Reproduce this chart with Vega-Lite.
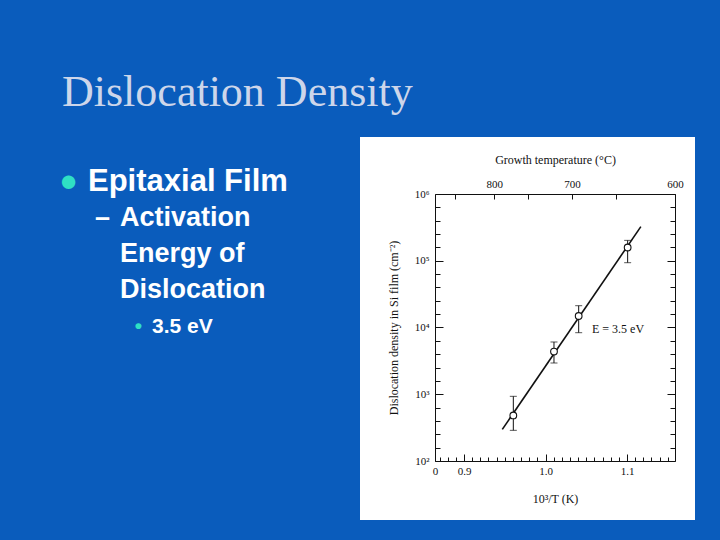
{
  "$schema": "https://vega.github.io/schema/vega-lite/v6.json",
  "width": 335,
  "height": 383,
  "autosize": {"type": "none"},
  "padding": {"left": 360, "top": 137, "right": 25, "bottom": 20},
  "background": "#0a5cbc",
  "title": {
    "text": "Dislocation Density",
    "anchor": "start",
    "frame": "group",
    "font": "Liberation Serif",
    "fontSize": 44,
    "fontWeight": "normal",
    "color": "#cdd6ea",
    "dx": -298,
    "dy": 40,
    "offset": 27,
    "baseline": "alphabetic"
  },
  "datasets": {
    "fit": [{"x": 0.947, "y": 298}, {"x": 1.117, "y": 324000}],
    "pts": [
      {"x": 0.9605, "y": 481, "lo": 288, "hi": 931},
      {"x": 1.0104, "y": 4365, "lo": 2938, "hi": 6067},
      {"x": 1.0407, "y": 14860, "lo": 8360, "hi": 21220},
      {"x": 1.1008, "y": 158000, "lo": 93500, "hi": 202000}
    ],
    "annot": [{"x": 1.057, "y": 9500, "label": "E = 3.5 eV"}],
    "bullets": [
      {"line": 1, "level": 1, "text": "Epitaxial Film", "bullet": "●"},
      {"line": 2, "level": 2, "text": "Activation", "bullet": "–"},
      {"line": 3, "level": 2, "text": "Energy of", "bullet": ""},
      {"line": 4, "level": 2, "text": "Dislocation", "bullet": ""},
      {"line": 5, "level": 3, "text": "3.5 eV", "bullet": "•"}
    ]
  },
  "layer": [
    {
      "data": {"name": "fit"},
      "mark": {"type": "line", "color": "#111111", "strokeWidth": 1.6},
      "encoding": {
        "x": {
          "field": "x", "type": "quantitative",
          "scale": {"type": "linear", "domain": [0.8644, 1.1589], "range": [75, 315], "nice": false, "zero": false},
          "axis": {
            "orient": "bottom", "offset": -59, "title": "10³/T (K)",
            "values": [0.8644, 0.87, 0.88, 0.89, 0.9, 0.91, 0.92, 0.93, 0.94, 0.95, 0.96, 0.97, 0.98, 0.99, 1, 1.01, 1.02, 1.03, 1.04, 1.05, 1.06, 1.07, 1.08, 1.09, 1.1, 1.11, 1.12, 1.13, 1.14, 1.15],
            "labelExpr": "datum.value < 0.865 ? '0' : (abs(datum.value*10 - round(datum.value*10)) < 0.001 ? format(datum.value, '.1f') : '')",
            "tickSize": {"condition": {"test": "datum.value < 0.865 || abs(datum.value*10 - round(datum.value*10)) < 0.001", "value": -7}, "value": -4},
            "labelPadding": 11,
            "titlePadding": 14
          }
        },
        "y": {
          "field": "y", "type": "quantitative",
          "scale": {"type": "log", "domain": [100, 1000000], "range": [324, 57], "nice": false},
          "axis": {
            "orient": "left", "offset": -75, "title": "Dislocation density in Si film (cm⁻²)",
            "values": [100, 158.5, 251.2, 398.1, 631, 1000, 1585, 2512, 3981, 6310, 10000, 15850, 25120, 39810, 63100, 100000, 158500, 251200, 398100, 631000, 1000000],
            "labelExpr": "abs(log(datum.value)/LN10 - round(log(datum.value)/LN10)) < 0.001 ? '10' + ['²','³','⁴','⁵','⁶'][round(log(datum.value)/LN10) - 2] : ''",
            "tickSize": {"condition": {"test": "abs(log(datum.value)/LN10 - round(log(datum.value)/LN10)) < 0.001", "value": -8}, "value": -5},
            "labelPadding": 14,
            "titlePadding": 14
          }
        }
      }
    },
    {
      "data": {"name": "pts"},
      "mark": {"type": "errorbar", "color": "#111111", "thickness": 1, "ticks": {"size": 7, "color": "#111111", "thickness": 1}},
      "encoding": {
        "x": {"field": "x", "type": "quantitative", "scale": {"type": "linear", "domain": [0.8644, 1.1589], "range": [75, 315], "nice": false, "zero": false}, "axis": null},
        "y": {"field": "lo", "type": "quantitative", "scale": {"type": "log", "domain": [100, 1000000], "range": [324, 57], "nice": false}, "axis": null},
        "y2": {"field": "hi"}
      }
    },
    {
      "data": {"name": "pts"},
      "mark": {"type": "point", "shape": "circle", "size": 45, "filled": true, "fill": "white", "stroke": "#111111", "strokeWidth": 1.1, "opacity": 1},
      "encoding": {
        "x": {
          "field": "x", "type": "quantitative",
          "scale": {"type": "linear", "domain": [0.8644, 1.1589], "range": [75, 315], "nice": false, "zero": false},
          "axis": {
            "orient": "top", "offset": -57, "title": "Growth temperature (°C)",
            "values": [0.889, 0.937, 0.978, 1.0325, 1.086, 1.1589],
            "labelExpr": "datum.value == 0.937 ? '800' : datum.value == 1.0325 ? '700' : datum.value == 1.1589 ? '600' : ''",
            "tickSize": -5,
            "labelPadding": 10,
            "titlePadding": 12
          }
        },
        "y": {
          "field": "y", "type": "quantitative",
          "scale": {"type": "log", "domain": [100, 1000000], "range": [324, 57], "nice": false},
          "axis": {
            "orient": "right", "offset": -20, "title": null, "labels": false,
            "values": [100, 158.5, 251.2, 398.1, 631, 1000, 1585, 2512, 3981, 6310, 10000, 15850, 25120, 39810, 63100, 100000, 158500, 251200, 398100, 631000, 1000000],
            "tickSize": {"condition": {"test": "abs(log(datum.value)/LN10 - round(log(datum.value)/LN10)) < 0.001", "value": -8}, "value": -5}
          }
        }
      }
    },
    {
      "data": {"name": "annot"},
      "mark": {"type": "text", "align": "left", "baseline": "middle", "font": "Liberation Serif", "fontSize": 12, "color": "#111111"},
      "encoding": {
        "x": {"field": "x", "type": "quantitative", "scale": {"type": "linear", "domain": [0.8644, 1.1589], "range": [75, 315], "nice": false, "zero": false}, "axis": null},
        "y": {"field": "y", "type": "quantitative", "scale": {"type": "log", "domain": [100, 1000000], "range": [324, 57], "nice": false}, "axis": null},
        "text": {"field": "label"}
      }
    },
    {
      "data": {"name": "bullets"},
      "encoding": {
        "x": {"field": "level", "type": "quantitative", "scale": {"domain": [1, 3], "range": [-272, -208], "zero": false, "nice": false}, "axis": null},
        "y": {"field": "line", "type": "quantitative", "scale": {"domain": [1, 5], "range": [53.7, 196.3], "zero": false, "nice": false}, "axis": null},
        "size": {"field": "level", "type": "quantitative", "scale": {"type": "linear", "domain": [1, 2, 3], "range": [31, 27, 21]}, "legend": null}
      },
      "layer": [
        {
          "mark": {"type": "text", "align": "left", "baseline": "alphabetic", "font": "Liberation Sans", "fontWeight": "bold", "color": "white"},
          "encoding": {"text": {"field": "text"}}
        },
        {
          "transform": [{"filter": "datum.bullet != ''"}],
          "mark": {"type": "text", "align": "right", "baseline": "alphabetic", "dx": -10, "font": "Liberation Sans", "fontWeight": "bold"},
          "encoding": {
            "text": {"field": "bullet"},
            "color": {"field": "bullet", "type": "nominal", "scale": {"domain": ["●", "–", "•"], "range": ["#2fe0c4", "#ffffff", "#2fe0c4"]}, "legend": null}
          }
        }
      ]
    }
  ],
  "resolve": {
    "scale": {"x": "independent", "y": "independent", "size": "independent", "color": "independent"},
    "axis": {"x": "independent", "y": "independent"}
  },
  "config": {
    "view": {"fill": "white", "stroke": null},
    "axis": {
      "grid": false,
      "labelFont": "Liberation Serif",
      "titleFont": "Liberation Serif",
      "labelColor": "#111111",
      "titleColor": "#111111",
      "domainColor": "#111111",
      "tickColor": "#111111",
      "domainWidth": 1,
      "tickWidth": 1,
      "titleFontWeight": "normal",
      "labelFontSize": 11,
      "titleFontSize": 12,
      "labelFlush": false,
      "labelOverlap": false
    }
  }
}
